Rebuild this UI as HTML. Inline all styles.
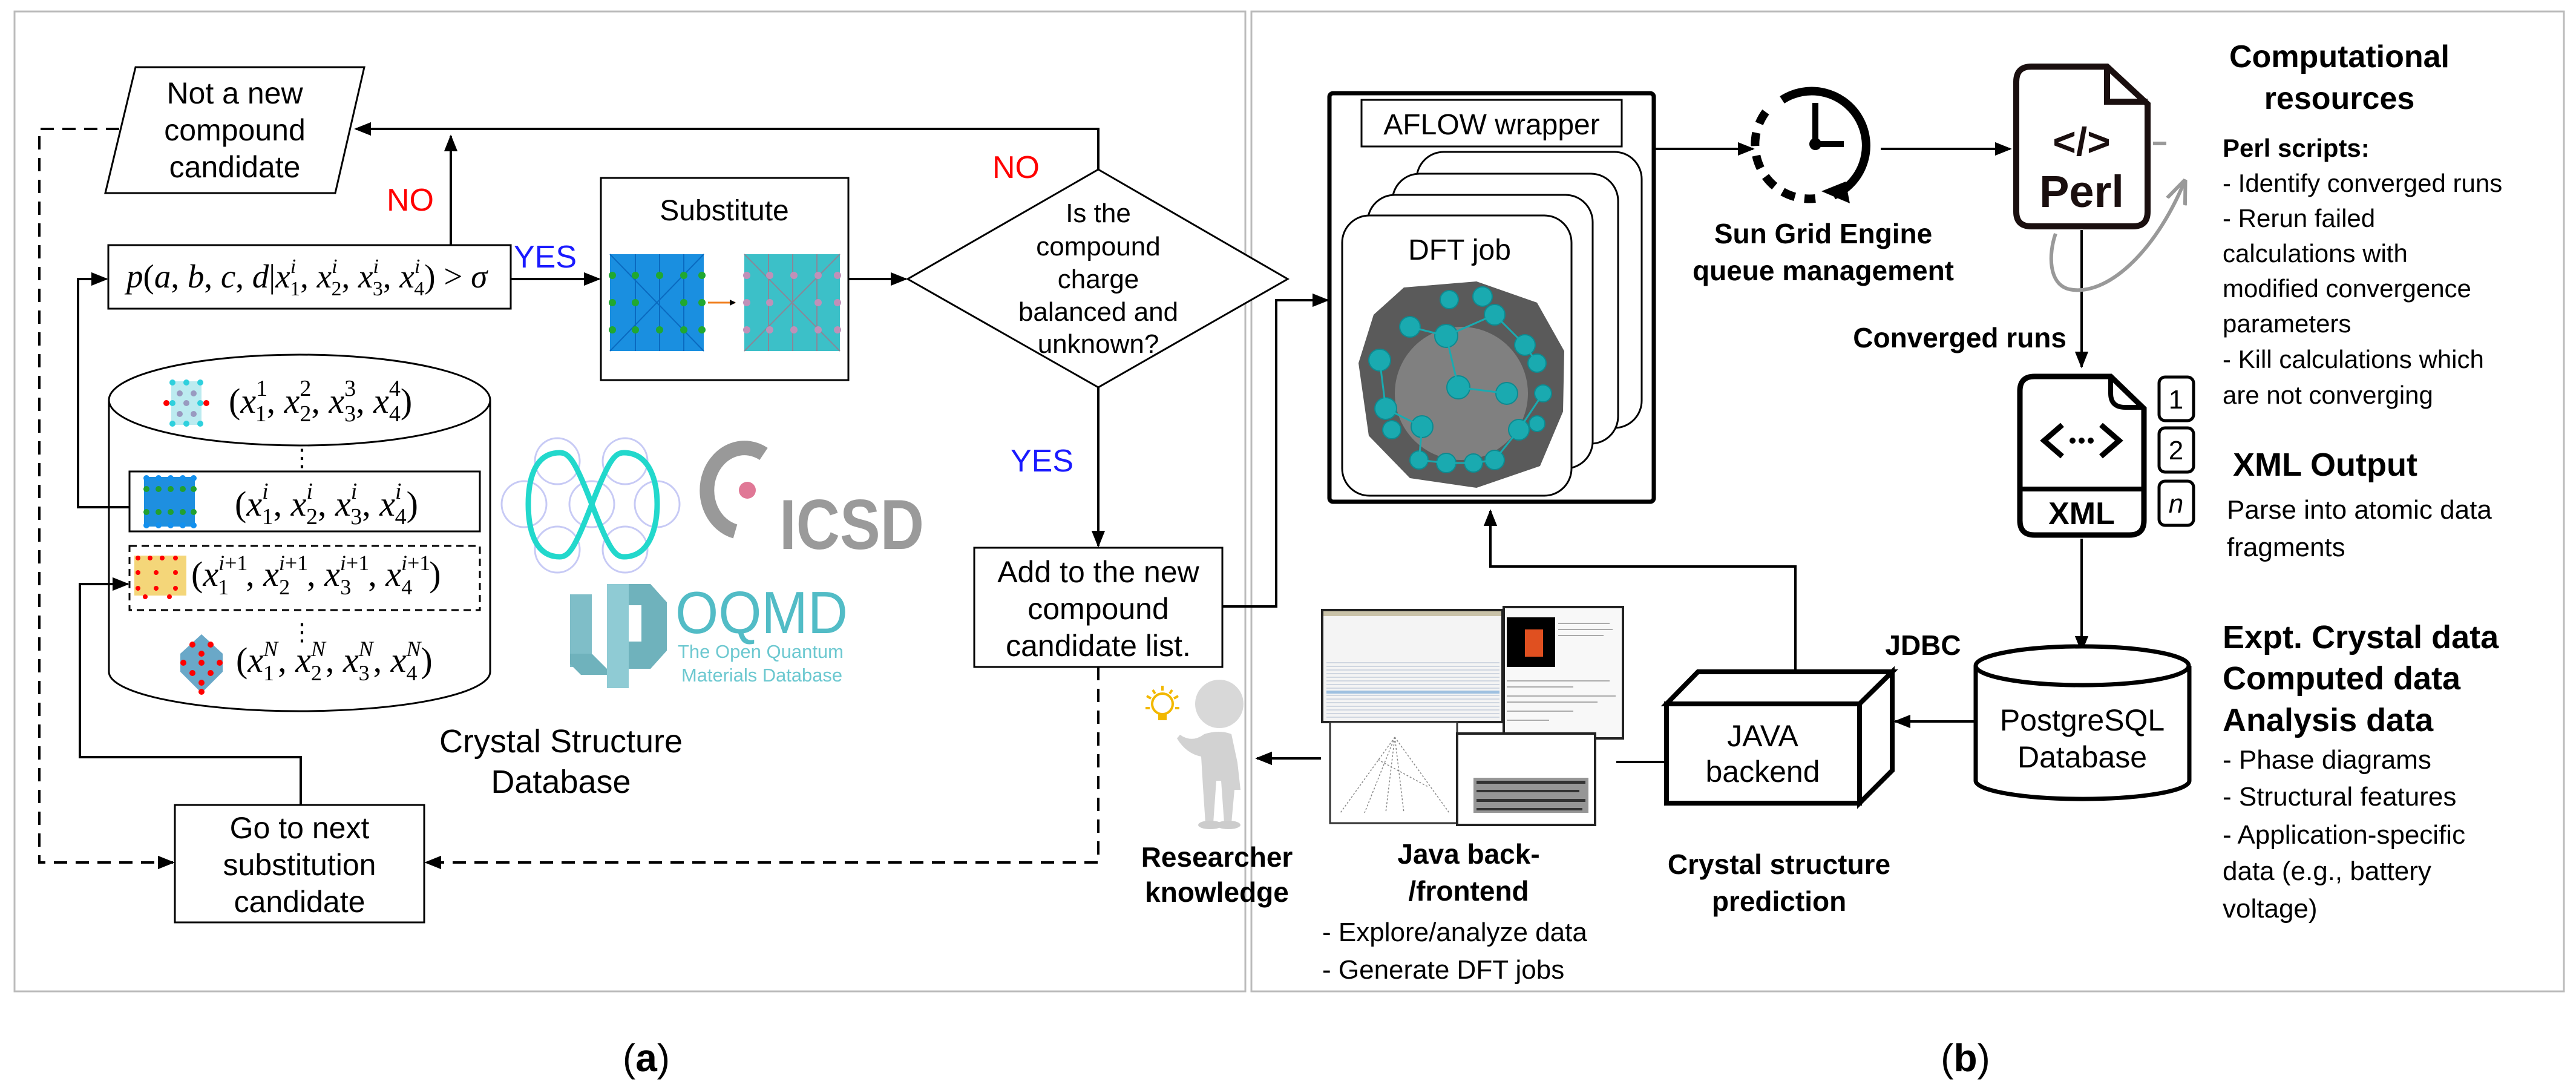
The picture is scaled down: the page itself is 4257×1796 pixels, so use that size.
<!DOCTYPE html>
<html><head><meta charset="utf-8"><style>
html,body{margin:0;padding:0;background:#fff}
svg{display:block}
text{font-family:"Liberation Sans",sans-serif}
.m{font-family:"Liberation Serif",serif;font-size:55px}
.r{font-family:"Liberation Serif",serif;font-size:58px}
.i{font-style:italic}
</style></head><body>
<svg width="4257" height="1796" viewBox="0 0 4257 1796" xmlns="http://www.w3.org/2000/svg">
<defs>
<marker id="ah" markerWidth="10" markerHeight="10" refX="9" refY="5" orient="auto" markerUnits="userSpaceOnUse" viewBox="0 0 10 10"><path d="M0,0 L10,5 L0,10 z" fill="#000"/></marker>
<marker id="a2" viewBox="0 0 10 10" refX="9" refY="5" markerWidth="28" markerHeight="28" orient="auto" markerUnits="userSpaceOnUse"><path d="M0,1 L10,5 L0,9 z" fill="#000"/></marker>
<marker id="ag" viewBox="0 0 10 10" refX="9" refY="5" markerWidth="40" markerHeight="40" orient="auto" markerUnits="userSpaceOnUse"><path d="M0,1 L10,5 L0,9" fill="none" stroke="#999" stroke-width="1.5"/></marker>
</defs>
<rect width="4257" height="1796" fill="#fff"/>
<rect x="24" y="19" width="2034" height="1619" fill="none" stroke="#bbb" stroke-width="3"/>
<rect x="2068" y="19" width="2169" height="1619" fill="none" stroke="#bbb" stroke-width="3"/>

<!-- ===== LEFT PANEL ===== -->
<g stroke="#000" fill="none" stroke-width="4">
<polygon points="224,111 602,111 554,319 174,319" fill="#fff" stroke-width="3"/>
<rect x="179" y="405" width="665" height="105" fill="#fff" stroke-width="3"/>
<rect x="993" y="294" width="409" height="334" fill="#fff" stroke-width="3"/>
<polygon points="1815,280 2128,461 1815,640 1500,461" fill="#fff" stroke-width="3"/>
<rect x="1610" y="905" width="410" height="197" fill="#fff" stroke-width="3"/>
<rect x="289" y="1330" width="412" height="194" fill="#fff" stroke-width="3"/>
<path d="M180,661 L180,1110 A315,65 0 0 0 810,1110 L810,661" fill="#fff" stroke-width="3"/>
<ellipse cx="495" cy="661" rx="315" ry="75" fill="#fff" stroke-width="3"/>
<rect x="214" y="779" width="579" height="99" fill="#fff" stroke-width="3"/>
<rect x="214" y="902" width="579" height="106" fill="none" stroke-width="3" stroke-dasharray="12,8"/>
<path d="M745,405 L745,225" marker-end="url(#a2)"/>
<path d="M1815,280 L1815,213 L588,213" marker-end="url(#a2)"/>
<path d="M844,461 L990,461" marker-end="url(#a2)"/>
<path d="M1402,461 L1497,461" marker-end="url(#a2)"/>
<path d="M1815,640 L1815,902" marker-end="url(#a2)"/>
<path d="M2020,1002 L2109,1002 L2109,496 L2194,496" marker-end="url(#a2)"/>
<path d="M214,838 L129,838 L129,461 L176,461" marker-end="url(#a2)"/>
<path d="M497,1330 L497,1251 L132,1251 L132,965 L211,965" marker-end="url(#a2)"/>
<path d="M197,213 L65,213 L65,1425 L286,1425" stroke-dasharray="22,14" marker-end="url(#a2)"/>
<path d="M1815,1102 L1815,1425 L704,1425" stroke-dasharray="22,14" marker-end="url(#a2)"/>
</g>

<g font-size="50" text-anchor="middle" fill="#000">
<text x="388" y="171">Not a new</text>
<text x="388" y="232">compound</text>
<text x="388" y="293">candidate</text>
<text x="1197" y="364" font-size="48">Substitute</text>
<text x="1815" y="367" font-size="44">Is the</text>
<text x="1815" y="422" font-size="44">compound</text>
<text x="1815" y="476" font-size="44">charge</text>
<text x="1815" y="530" font-size="44">balanced and</text>
<text x="1815" y="583" font-size="44">unknown?</text>
<text x="1815" y="962">Add to the new</text>
<text x="1815" y="1023">compound</text>
<text x="1815" y="1084">candidate list.</text>
<text x="495" y="1385">Go to next</text>
<text x="495" y="1446">substitution</text>
<text x="495" y="1507">candidate</text>
<text x="927" y="1243" font-size="54">Crystal Structure</text>
<text x="927" y="1310" font-size="54">Database</text>
</g>
<g font-size="52">
<text x="639" y="348" fill="#f00">NO</text>
<text x="1640" y="294" fill="#f00">NO</text>
<text x="849" y="442" fill="#1a1aff">YES</text>
<text x="1670" y="779" fill="#1a1aff">YES</text>
</g>

<!-- formula -->
<text class="m" x="209" y="475"><tspan class="i">p</tspan>(<tspan class="i">a</tspan>, <tspan class="i">b</tspan>, <tspan class="i">c</tspan>, <tspan class="i">d</tspan>|<tspan class="i">x</tspan><tspan class="i" font-size="34" dy="-24">i</tspan><tspan font-size="34" dx="-10" dy="37">1</tspan><tspan dy="-13">, </tspan><tspan class="i">x</tspan><tspan class="i" font-size="34" dy="-24">i</tspan><tspan font-size="34" dx="-10" dy="37">2</tspan><tspan dy="-13">, </tspan><tspan class="i">x</tspan><tspan class="i" font-size="34" dy="-24">i</tspan><tspan font-size="34" dx="-10" dy="37">3</tspan><tspan dy="-13">, </tspan><tspan class="i">x</tspan><tspan class="i" font-size="34" dy="-24">i</tspan><tspan font-size="34" dx="-10" dy="37">4</tspan><tspan dy="-13">) &gt;  </tspan><tspan class="i">σ</tspan></text>
<!-- rows -->
<text class="r" x="378" y="682">(<tspan class="i">x</tspan><tspan font-size="38" dy="-28">1</tspan><tspan font-size="38" dx="-19" dy="42">1</tspan><tspan dy="-14">, </tspan><tspan class="i">x</tspan><tspan font-size="38" dy="-28">2</tspan><tspan font-size="38" dx="-19" dy="42">2</tspan><tspan dy="-14">, </tspan><tspan class="i">x</tspan><tspan font-size="38" dy="-28">3</tspan><tspan font-size="38" dx="-19" dy="42">3</tspan><tspan dy="-14">, </tspan><tspan class="i">x</tspan><tspan font-size="38" dy="-28">4</tspan><tspan font-size="38" dx="-19" dy="42">4</tspan><tspan dy="-14">)</tspan></text>
<text x="499" y="770" font-size="40" text-anchor="middle">⋮</text>
<text class="r" x="388" y="852">(<tspan class="i">x</tspan><tspan class="i" font-size="38" dy="-28">i</tspan><tspan font-size="38" dx="-11" dy="42">1</tspan><tspan dy="-14">, </tspan><tspan class="i">x</tspan><tspan class="i" font-size="38" dy="-28">i</tspan><tspan font-size="38" dx="-11" dy="42">2</tspan><tspan dy="-14">, </tspan><tspan class="i">x</tspan><tspan class="i" font-size="38" dy="-28">i</tspan><tspan font-size="38" dx="-11" dy="42">3</tspan><tspan dy="-14">, </tspan><tspan class="i">x</tspan><tspan class="i" font-size="38" dy="-28">i</tspan><tspan font-size="38" dx="-11" dy="42">4</tspan><tspan dy="-14">)</tspan></text>
<text class="r" x="316" y="968" font-size="54">(<tspan class="i">x</tspan><tspan font-size="36" dy="-26"><tspan class="i">i</tspan>+1</tspan><tspan font-size="36" dx="-48" dy="40">1</tspan><tspan dy="-14" dx="28">, </tspan><tspan class="i">x</tspan><tspan font-size="36" dy="-26"><tspan class="i">i</tspan>+1</tspan><tspan font-size="36" dx="-48" dy="40">2</tspan><tspan dy="-14" dx="28">, </tspan><tspan class="i">x</tspan><tspan font-size="36" dy="-26"><tspan class="i">i</tspan>+1</tspan><tspan font-size="36" dx="-48" dy="40">3</tspan><tspan dy="-14" dx="28">, </tspan><tspan class="i">x</tspan><tspan font-size="36" dy="-26"><tspan class="i">i</tspan>+1</tspan><tspan font-size="36" dx="-48" dy="40">4</tspan><tspan dy="-14" dx="28">)</tspan></text>
<text x="499" y="1058" font-size="40" text-anchor="middle">⋮</text>
<text class="r" x="390" y="1110" font-size="56">(<tspan class="i">x</tspan><tspan class="i" font-size="36" dy="-26">N</tspan><tspan font-size="36" dx="-24" dy="40">1</tspan><tspan dy="-14" dx="6">, </tspan><tspan class="i">x</tspan><tspan class="i" font-size="36" dy="-26">N</tspan><tspan font-size="36" dx="-24" dy="40">2</tspan><tspan dy="-14" dx="6">, </tspan><tspan class="i">x</tspan><tspan class="i" font-size="36" dy="-26">N</tspan><tspan font-size="36" dx="-24" dy="40">3</tspan><tspan dy="-14" dx="6">, </tspan><tspan class="i">x</tspan><tspan class="i" font-size="36" dy="-26">N</tspan><tspan font-size="36" dx="-24" dy="40">4</tspan><tspan dy="-14" dx="6">)</tspan></text>

<!-- crystal icons -->
<g>
<rect x="283" y="630" width="50" height="72" fill="#9fe3ea" opacity="0.7"/>
<g fill="#2fd0dd"><circle cx="285" cy="632" r="5"/><circle cx="308" cy="632" r="5"/><circle cx="331" cy="632" r="5"/><circle cx="285" cy="666" r="5"/><circle cx="331" cy="666" r="5"/><circle cx="285" cy="700" r="5"/><circle cx="308" cy="700" r="5"/><circle cx="331" cy="700" r="5"/></g>
<g fill="#999ac0"><circle cx="297" cy="650" r="5"/><circle cx="320" cy="650" r="5"/><circle cx="308" cy="666" r="5"/><circle cx="297" cy="684" r="5"/><circle cx="320" cy="684" r="5"/></g>
<circle cx="275" cy="666" r="5" fill="#f00"/><circle cx="341" cy="666" r="5" fill="#f00"/>
<rect x="238" y="788" width="84" height="82" fill="#1e8fe0"/>
<g fill="#22a030"><circle cx="242" cy="808" r="5"/><circle cx="262" cy="808" r="5"/><circle cx="282" cy="808" r="5"/><circle cx="302" cy="808" r="5"/><circle cx="320" cy="808" r="5"/><circle cx="242" cy="846" r="5"/><circle cx="262" cy="846" r="5"/><circle cx="282" cy="846" r="5"/><circle cx="302" cy="846" r="5"/><circle cx="320" cy="846" r="5"/></g>
<g fill="#1390ee"><circle cx="242" cy="790" r="5"/><circle cx="262" cy="790" r="5"/><circle cx="282" cy="790" r="5"/><circle cx="302" cy="790" r="5"/><circle cx="320" cy="790" r="5"/><circle cx="242" cy="868" r="5"/><circle cx="262" cy="868" r="5"/><circle cx="282" cy="868" r="5"/><circle cx="302" cy="868" r="5"/><circle cx="320" cy="868" r="5"/></g>
<rect x="222" y="918" width="86" height="66" fill="#f2cf62" opacity="0.85"/>
<g fill="#f00"><circle cx="228" cy="922" r="4"/><circle cx="248" cy="922" r="4"/><circle cx="268" cy="922" r="4"/><circle cx="290" cy="922" r="4"/><circle cx="228" cy="946" r="4"/><circle cx="258" cy="946" r="4"/><circle cx="290" cy="946" r="4"/><circle cx="228" cy="972" r="4"/><circle cx="258" cy="972" r="4"/><circle cx="290" cy="972" r="4"/><circle cx="240" cy="986" r="4"/><circle cx="280" cy="986" r="4"/></g>
<polygon points="333,1048 368,1080 368,1110 333,1145 298,1110 298,1080" fill="#6aa8c8"/>
<g fill="#f00"><circle cx="318" cy="1065" r="5"/><circle cx="348" cy="1065" r="5"/><circle cx="333" cy="1080" r="5"/><circle cx="303" cy="1095" r="5"/><circle cx="333" cy="1095" r="5"/><circle cx="363" cy="1095" r="5"/><circle cx="318" cy="1112" r="5"/><circle cx="348" cy="1112" r="5"/><circle cx="333" cy="1128" r="5"/><circle cx="333" cy="1143" r="5"/></g>
<rect x="1008" y="420" width="155" height="160" fill="#1a8fe0"/>
<g stroke="#0a6ac0" stroke-width="2"><path d="M1008,420 L1163,580 M1163,420 L1008,580 M1050,420 L1050,580 M1090,420 L1090,580 M1130,420 L1130,580"/></g>
<g fill="#21a830"><circle cx="1012" cy="455" r="6"/><circle cx="1050" cy="455" r="6"/><circle cx="1090" cy="455" r="6"/><circle cx="1130" cy="455" r="6"/><circle cx="1160" cy="455" r="6"/><circle cx="1012" cy="500" r="6"/><circle cx="1050" cy="500" r="6"/><circle cx="1130" cy="500" r="6"/><circle cx="1160" cy="500" r="6"/><circle cx="1012" cy="545" r="6"/><circle cx="1050" cy="545" r="6"/><circle cx="1090" cy="545" r="6"/><circle cx="1130" cy="545" r="6"/><circle cx="1160" cy="545" r="6"/></g>
<path d="M1170,500 L1215,500" stroke="#f08020" stroke-width="3" marker-end="url(#ah)"/>
<rect x="1230" y="420" width="158" height="160" fill="#3cc0c8"/>
<g stroke="#889" stroke-width="2"><path d="M1230,420 L1388,580 M1388,420 L1230,580 M1270,420 L1270,580 M1310,420 L1310,580 M1350,420 L1350,580"/></g>
<g fill="#c090b8"><circle cx="1234" cy="455" r="6"/><circle cx="1272" cy="455" r="6"/><circle cx="1312" cy="455" r="6"/><circle cx="1352" cy="455" r="6"/><circle cx="1384" cy="455" r="6"/><circle cx="1234" cy="500" r="6"/><circle cx="1272" cy="500" r="6"/><circle cx="1352" cy="500" r="6"/><circle cx="1384" cy="500" r="6"/><circle cx="1234" cy="545" r="6"/><circle cx="1272" cy="545" r="6"/><circle cx="1312" cy="545" r="6"/><circle cx="1352" cy="545" r="6"/><circle cx="1384" cy="545" r="6"/></g>
</g>

<!-- logos -->
<g fill="none" stroke="#c7caf5" stroke-width="3">
<ellipse cx="921" cy="762" rx="37" ry="38"/><ellipse cx="1033" cy="762" rx="37" ry="38"/>
<ellipse cx="866" cy="833" rx="37" ry="38"/><ellipse cx="978" cy="833" rx="37" ry="38"/><ellipse cx="1086" cy="833" rx="37" ry="38"/>
<ellipse cx="921" cy="908" rx="37" ry="38"/><ellipse cx="1033" cy="908" rx="37" ry="38"/>
</g>
<g fill="none" stroke="#22d8cc" stroke-width="9">
<path d="M978,833 C950,760 940,748 925,748 C880,748 873,800 873,833 C873,866 880,920 925,920 C940,920 950,906 978,833 C1006,760 1016,748 1031,748 C1076,748 1086,800 1086,833 C1086,866 1076,920 1031,920 C1016,920 1006,906 978,833 Z"/>
</g>
<path d="M1262,750 A62,70 0 1 0 1215,878" fill="none" stroke="#999" stroke-width="24"/>
<circle cx="1235" cy="810" r="14" fill="#e07896"/>
<text x="1288" y="907" font-size="117" font-weight="bold" fill="#9a9a9a" textLength="239" lengthAdjust="spacingAndGlyphs">ICSD</text>
<g>
<rect x="942" y="982" width="36" height="120" fill="#7fbec8"/>
<rect x="1003" y="965" width="36" height="172" fill="#8fcbd4"/>
<polygon points="1039,965 1075,965 1102,995 1102,1075 1075,1105 1039,1105 1039,1060 1060,1060 1060,1000 1039,1000" fill="#6fb2bc"/>
<polygon points="942,1080 978,1080 1003,1105 1003,1115 960,1115 942,1097" fill="#6fb2bc"/>
</g>
<text x="1116" y="1046" font-size="98" fill="#52bcc6" textLength="285" lengthAdjust="spacingAndGlyphs">OQMD</text>
<text x="1120" y="1087" font-size="31" fill="#6cc8d0" textLength="274" lengthAdjust="spacingAndGlyphs">The Open Quantum</text>
<text x="1126" y="1126" font-size="31" fill="#6cc8d0" textLength="266" lengthAdjust="spacingAndGlyphs">Materials Database</text>

<!-- ===== RIGHT PANEL ===== -->
<rect x="2197" y="154" width="536" height="675" rx="6" fill="#fff" stroke="#000" stroke-width="7"/>
<rect x="2250" y="165" width="430" height="77" fill="#fff" stroke="#000" stroke-width="3"/>
<text x="2465" y="222" font-size="48" text-anchor="middle">AFLOW wrapper</text>
<g fill="#fff" stroke="#000" stroke-width="3">
<rect x="2341" y="251" width="372" height="456" rx="45"/>
<rect x="2301" y="287" width="373" height="446" rx="45"/>
<rect x="2260" y="322" width="372" height="452" rx="45"/>
<rect x="2218" y="356" width="379" height="463" rx="45"/>
</g>
<text x="2412" y="429" font-size="48" text-anchor="middle">DFT job</text>
<polygon points="2320,475 2440,465 2540,500 2585,580 2583,680 2545,770 2440,806 2330,790 2262,720 2245,600 2270,520" fill="#5a5a5a"/>
<ellipse cx="2415" cy="650" rx="110" ry="110" fill="#9a9a9a" opacity="0.6"/>
<g fill="#1aaab0" stroke="#0d8a90" stroke-width="2">
<circle cx="2395" cy="495" r="15"/><circle cx="2450" cy="490" r="16"/><circle cx="2470" cy="520" r="17"/><circle cx="2330" cy="540" r="17"/><circle cx="2390" cy="555" r="19"/><circle cx="2520" cy="570" r="17"/><circle cx="2540" cy="600" r="15"/><circle cx="2280" cy="595" r="18"/><circle cx="2410" cy="640" r="19"/><circle cx="2490" cy="650" r="18"/><circle cx="2550" cy="650" r="14"/><circle cx="2290" cy="675" r="18"/><circle cx="2350" cy="705" r="18"/><circle cx="2300" cy="710" r="15"/><circle cx="2510" cy="710" r="17"/><circle cx="2540" cy="700" r="13"/><circle cx="2345" cy="760" r="15"/><circle cx="2390" cy="765" r="16"/><circle cx="2435" cy="765" r="15"/><circle cx="2470" cy="760" r="16"/>
</g>
<g stroke="#1aaab0" stroke-width="3" fill="none"><path d="M2330,540 L2390,555 L2470,520 L2520,570 L2540,600 M2280,595 L2290,675 L2350,705 L2345,760 L2390,765 L2435,765 L2470,760 L2510,710 L2550,650 M2410,640 L2490,650 M2390,555 L2410,640"/></g>
<g stroke="#000" stroke-width="4" fill="none">
<path d="M2733,246 L2897,246" marker-end="url(#a2)"/>
<path d="M3108,246 L3322,246" marker-end="url(#a2)"/>
<path d="M3440,380 L3440,606" marker-end="url(#a2)"/>
<path d="M3440,890 L3440,1076" marker-end="url(#a2)"/>
<path d="M3265,1192 L3132,1192" marker-end="url(#a2)"/>
<path d="M2967,1110 L2967,936 L2463,936 L2463,844" marker-end="url(#a2)"/>
<path d="M2753,1259 L2671,1259"/>
<path d="M2183,1253 L2077,1253" marker-end="url(#a2)"/>
</g>
<g fill="none" stroke="#000" stroke-width="14">
<path d="M2945,165 A90,90 0 1 1 3030,323"/>
<path d="M2918,185 A90,90 0 0 0 3000,328" stroke-dasharray="22,16"/>
</g>
<polygon points="3010,316 3050,300 3057,336" fill="#000"/>
<path d="M3000,170 L3000,238 L3047,238" stroke="#000" stroke-width="10" fill="none"/>
<circle cx="3000" cy="238" r="10" fill="#000"/>
<path d="M3357,110 L3482,110 L3549,172 L3549,350 Q3549,374 3525,374 L3357,374 Q3332,374 3332,350 L3332,135 Q3332,110 3357,110 Z" fill="#fff" stroke="#1a0f0f" stroke-width="10"/>
<path d="M3482,110 L3482,168 L3549,168" fill="none" stroke="#1a0f0f" stroke-width="10"/>
<text x="3440" y="257" font-size="66" font-weight="bold" text-anchor="middle" fill="#1a0f0f">&lt;/&gt;</text>
<text x="3440" y="342" font-size="74" font-weight="bold" text-anchor="middle" fill="#1a0f0f">Perl</text>
<path d="M3558,237 L3580,237" stroke="#999" stroke-width="6"/>
<path d="M3397,386 C3385,420 3385,470 3420,478 C3480,490 3560,420 3610,300" fill="none" stroke="#999" stroke-width="6" marker-end="url(#ag)"/>
<path d="M3362,622 L3488,622 L3543,675 L3543,860 Q3543,884 3519,884 L3362,884 Q3338,884 3338,860 L3338,646 Q3338,622 3362,622 Z" fill="#fff" stroke="#000" stroke-width="9"/>
<path d="M3488,622 L3488,650 Q3488,673 3512,673 L3543,673" fill="none" stroke="#000" stroke-width="8"/>
<path d="M3338,808 L3543,808" stroke="#000" stroke-width="8"/>
<path d="M3408,702 L3378,728 L3408,754 M3472,702 L3502,728 L3472,754" fill="none" stroke="#000" stroke-width="9"/>
<g fill="#000"><circle cx="3425" cy="728" r="5"/><circle cx="3440" cy="728" r="5"/><circle cx="3455" cy="728" r="5"/></g>
<text x="3440" y="866" font-size="52" font-weight="bold" text-anchor="middle">XML</text>
<g fill="#fff" stroke="#000" stroke-width="5">
<rect x="3568" y="623" width="57" height="72" rx="10"/><rect x="3568" y="707" width="57" height="73" rx="10"/><rect x="3568" y="795" width="57" height="73" rx="10"/>
</g>
<g font-size="44" text-anchor="middle"><text x="3596" y="675">1</text><text x="3596" y="759">2</text><text x="3596" y="847" font-style="italic">n</text></g>
<path d="M3265,1100 L3265,1290 A176,30 0 0 0 3618,1290 L3618,1100" fill="#fff" stroke="#000" stroke-width="7"/>
<ellipse cx="3441" cy="1100" rx="176" ry="32" fill="#fff" stroke="#000" stroke-width="7"/>
<text x="3441" y="1207" font-size="50" text-anchor="middle">PostgreSQL</text>
<text x="3441" y="1268" font-size="50" text-anchor="middle">Database</text>
<g fill="#fff" stroke="#000" stroke-width="8">
<polygon points="2754,1163 2806,1110 3127,1110 3073,1163"/>
<polygon points="3073,1163 3127,1110 3127,1273 3073,1327"/>
<rect x="2754" y="1163" width="319" height="164"/>
</g>
<text x="2913" y="1233" font-size="50" text-anchor="middle">JAVA</text>
<text x="2913" y="1292" font-size="50" text-anchor="middle">backend</text>
<g>
<rect x="2185" y="1008" width="298" height="185" fill="#f4f4f4" stroke="#222" stroke-width="4"/>
<rect x="2187" y="1010" width="294" height="8" fill="#c9c2a8"/>
<g stroke="#cfd6e0" stroke-width="2"><path d="M2192,1095 H2478 M2192,1101 H2478 M2192,1107 H2478 M2192,1113 H2478 M2192,1119 H2478 M2192,1125 H2478 M2192,1131 H2478 M2192,1137 H2478 M2192,1149 H2478 M2192,1155 H2478 M2192,1161 H2478 M2192,1167 H2478 M2192,1173 H2478 M2192,1179 H2478 M2192,1185 H2478"/></g>
<rect x="2192" y="1141" width="286" height="5" fill="#9ec0e0"/>
<rect x="2485" y="1003" width="197" height="217" fill="#f8f8f8" stroke="#222" stroke-width="4"/>
<rect x="2490" y="1020" width="80" height="82" fill="#000"/>
<rect x="2520" y="1040" width="30" height="45" fill="#e05020"/>
<g stroke="#aaa" stroke-width="2"><path d="M2575,1030 H2660 M2575,1040 H2665 M2575,1050 H2650 M2490,1125 H2660 M2490,1135 H2600 M2490,1150 H2670 M2490,1160 H2640 M2490,1175 H2600 M2490,1190 H2560"/></g>
<rect x="2198" y="1193" width="210" height="167" fill="#fff" stroke="#333" stroke-width="3"/>
<g stroke="#888" stroke-width="1.5" stroke-dasharray="3,3" fill="none"><path d="M2305,1218 L2215,1343 M2305,1218 L2395,1343 M2305,1218 L2255,1343 M2305,1218 L2320,1343 M2277,1255 L2360,1300 M2305,1218 L2290,1343"/></g>
<rect x="2408" y="1212" width="228" height="151" fill="#fff" stroke="#222" stroke-width="4"/>
<rect x="2435" y="1285" width="190" height="58" fill="#6a6a6a" opacity="0.7"/>
<g fill="#333"><rect x="2440" y="1290" width="180" height="5"/><rect x="2440" y="1305" width="170" height="4"/><rect x="2440" y="1320" width="180" height="5"/><rect x="2440" y="1335" width="175" height="4"/></g>
</g>
<g>
<circle cx="2015" cy="1163" r="40" fill="#d8d8d8"/>
<path d="M1990,1213 Q2015,1205 2035,1213 L2045,1260 L2050,1305 L2040,1305 L2035,1360 L2023,1360 L2018,1290 L2010,1290 L2005,1360 L1992,1360 L1988,1300 L1985,1250 Q1960,1245 1945,1220 L1950,1214 Q1970,1228 1990,1213 Z" fill="#d2d2d2"/>
<ellipse cx="2000" cy="1363" rx="20" ry="7" fill="#ccc"/><ellipse cx="2030" cy="1363" rx="20" ry="7" fill="#ccc"/>
<circle cx="1921" cy="1163" r="17" fill="none" stroke="#f2b800" stroke-width="4"/>
<rect x="1914" y="1180" width="14" height="10" fill="#f2b800"/>
<g stroke="#f2b800" stroke-width="4"><path d="M1921,1133 V1141 M1895,1150 L1902,1154 M1947,1150 L1940,1154 M1893,1170 H1900 M1942,1170 H1949 M1905,1140 L1909,1146 M1937,1140 L1933,1146"/></g>
</g>
<g font-weight="bold" font-size="46" text-anchor="middle">
<text x="3013" y="402">Sun Grid Engine</text>
<text x="3013" y="463">queue management</text>
<text x="3415" y="574" text-anchor="end">Converged runs</text>
<text x="3178" y="1082">JDBC</text>
<text x="2940" y="1444">Crystal structure</text>
<text x="2940" y="1505">prediction</text>
<text x="2427" y="1427">Java back-</text>
<text x="2427" y="1488">/frontend</text>
<text x="2011" y="1432">Researcher</text>
<text x="2011" y="1490">knowledge</text>
</g>
<g font-size="44">
<text x="2185" y="1555">- Explore/analyze data</text>
<text x="2185" y="1617">- Generate DFT jobs</text>
</g>
<g font-weight="bold" font-size="52" text-anchor="middle">
<text x="3866" y="111">Computational</text>
<text x="3866" y="180">resources</text>
</g>
<g font-size="42">
<text x="3673" y="259" font-weight="bold">Perl scripts:</text>
<text x="3673" y="317">- Identify converged runs</text>
<text x="3673" y="375">- Rerun failed</text>
<text x="3673" y="433">calculations with</text>
<text x="3673" y="491">modified convergence</text>
<text x="3673" y="549">parameters</text>
<text x="3673" y="608">- Kill calculations which</text>
<text x="3673" y="667">are not converging</text>
</g>
<text x="3690" y="786" font-size="54" font-weight="bold">XML Output</text>
<text x="3680" y="857" font-size="44">Parse into atomic data</text>
<text x="3680" y="919" font-size="44">fragments</text>
<g font-size="54" font-weight="bold">
<text x="3673" y="1071">Expt. Crystal data</text>
<text x="3673" y="1139">Computed data</text>
<text x="3673" y="1208">Analysis data</text>
</g>
<g font-size="44">
<text x="3673" y="1270">- Phase diagrams</text>
<text x="3673" y="1331">- Structural features</text>
<text x="3673" y="1394">- Application-specific</text>
<text x="3673" y="1454">data (e.g., battery</text>
<text x="3673" y="1516">voltage)</text>
</g>
<text x="1068" y="1770" font-family="Liberation Serif,serif" font-size="64" text-anchor="middle">(<tspan font-weight="bold">a</tspan>)</text>
<text x="3248" y="1770" font-family="Liberation Serif,serif" font-size="64" text-anchor="middle">(<tspan font-weight="bold">b</tspan>)</text>
</svg>
</body></html>
